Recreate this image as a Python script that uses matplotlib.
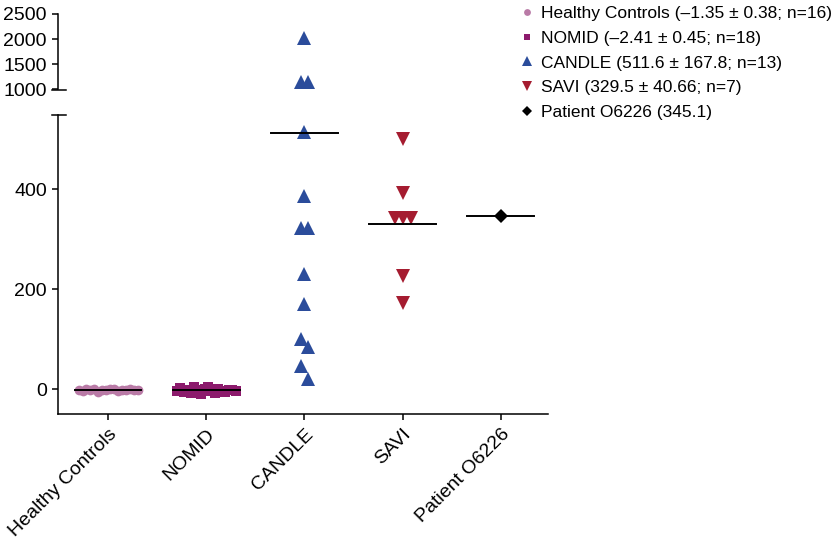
import numpy as np
import matplotlib.pyplot as plt

plt.rcParams['font.family'] = ['Liberation Sans', 'DejaVu Sans']

# Data
groups = ['Healthy Controls', 'NOMID', 'CANDLE', 'SAVI', 'Patient O6226']
healthy = [-1, -3, 0, -2, 1, -5, -1, -2, 0, 1, -4, -2, -1, 1, -2, -1]
nomid = [-3, 2, -6, -1, -8, 4, -2, -10, 0, 5, -4, -7, 1, -3, -5, -2, -1, -4]
candle = [2030, 1150, 1150, 515, 386, 322, 322, 230, 170, 100, 84, 46, 20]
savi = [500, 392, 342, 342, 342, 226, 172]
patient = [345.1]
means = [-1.35, -2.41, 511.6, 329.5, 345.1]
legend_labels = ['Healthy Controls (\u20131.35 \u00b1 0.38; n=16)',
                 'NOMID (\u20132.41 \u00b1 0.45; n=18)',
                 'CANDLE (511.6 \u00b1 167.8; n=13)',
                 'SAVI (329.5 \u00b1 40.66; n=7)',
                 'Patient O6226 (345.1)']

colors = ['#b97aa6', '#8c1a6c', '#2b4c9b', '#a51c30', 'black']
markers = ['o', 's', '^', 'v', 'D']
sizes = [7, 7, 9.5, 9.5, 7]

BREAK = 1000    # values above go to the upper panel
LOW_PX = 0.5    # pixels per unit, lower panel
HIGH_PX = 75.5 / 1500


def swarm_offsets(values, row_px=15, step=0.08, max_width=0.6):
    # Prism-like rows: group close values, centre each row
    vals = np.asarray(values, dtype=float)
    px = np.where(vals > BREAK, vals * HIGH_PX + 1000, vals * LOW_PX)
    order = np.argsort(-px, kind='stable')
    rows, cur, start = [], [], None
    for i in order:
        if start is None or start - px[i] <= row_px:
            if start is None:
                start = px[i]
            cur.append(i)
        else:
            rows.append(cur)
            cur, start = [i], px[i]
    rows.append(cur)
    offs = np.zeros(len(vals))
    for row in rows:
        row = sorted(row)
        n = len(row)
        d = step if n < 2 else min(step, max_width / (n - 1))
        for k, i in enumerate(row):
            offs[i] = (k - (n - 1) / 2) * d
    return offs


fig = plt.figure(figsize=(8.32, 5.45), dpi=100)
ax = fig.add_axes([58 / 832, 131 / 545, 490 / 832, 299 / 545])
ax_top = fig.add_axes([58 / 832, 455.5 / 545, 490 / 832, 75.5 / 545])

handles = []
for i, vals in enumerate([healthy, nomid, candle, savi, patient]):
    vals = np.asarray(vals, dtype=float)
    xs = i + swarm_offsets(vals)
    low = vals <= BREAK
    h, = ax.plot(xs[low], vals[low], linestyle='none', marker=markers[i],
                 color=colors[i], markersize=sizes[i], markeredgewidth=0, zorder=2)
    if (~low).any():
        ax_top.plot(xs[~low], vals[~low], linestyle='none', marker=markers[i],
                    color=colors[i], markersize=sizes[i], markeredgewidth=0)
    handles.append(h)
    ax.plot([i - 0.34, i + 0.34], [means[i], means[i]], color='black', lw=1.4, zorder=3)

for a in (ax, ax_top):
    a.set_xlim(-0.51, 4.48)
    a.spines['top'].set_visible(False)
    a.spines['right'].set_visible(False)
    a.spines['left'].set_linewidth(1.1)
    a.spines['bottom'].set_linewidth(1.1)
    a.tick_params(labelsize=14, length=4.5, width=1.1)

ax.set_ylim(-50, 548)
ax.set_yticks([0, 200, 400])
ax.set_xticks(range(len(groups)))
ax.set_xticklabels(groups, rotation=45, ha='right', rotation_mode='anchor')
ax.tick_params(axis='x', pad=4)

ax_top.set_ylim(1000, 2500)
ax_top.set_yticks([1000, 1500, 2000, 2500])
ax_top.spines['bottom'].set_visible(False)
ax_top.set_xticks([])
ax_top.patch.set_alpha(0)

# axis break marks
ax.plot([-0.012, 0.016], [1, 1], transform=ax.transAxes, color='black', lw=1.1, clip_on=False)
ax_top.plot([-0.012, 0.016], [0, 0], transform=ax_top.transAxes, color='black', lw=1.1, clip_on=False)

fig.legend(handles, legend_labels, loc='upper left', bbox_to_anchor=(520 / 832, 1 - 6 / 545),
           frameon=False, fontsize=12.5, handlelength=0.8, handletextpad=0.4,
           labelspacing=0.55, borderpad=0, borderaxespad=0, markerscale=0.7)

fig.savefig('out.png', dpi=100)
